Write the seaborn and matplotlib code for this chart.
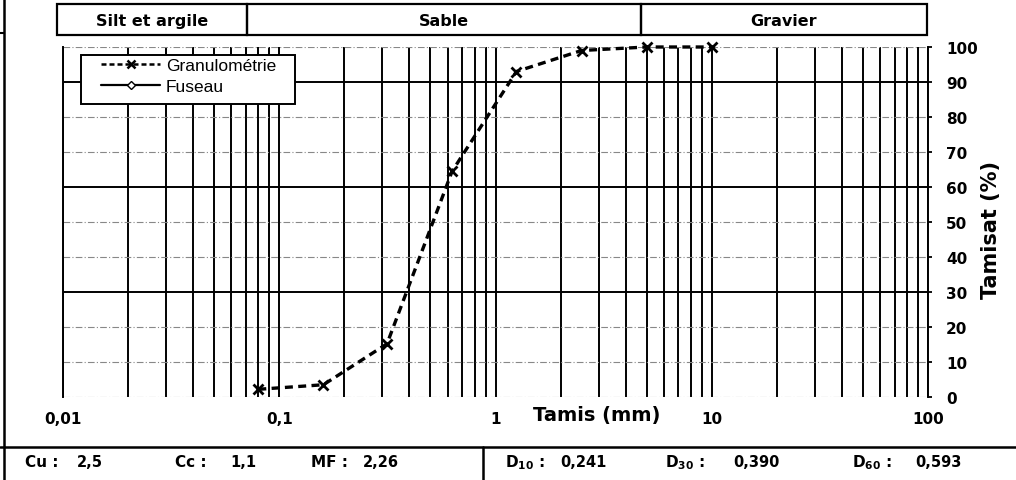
import numpy as np
import pandas as pd
import matplotlib
matplotlib.use("Agg")
import matplotlib.pyplot as plt
from matplotlib.patches import Rectangle
from matplotlib.lines import Line2D
from matplotlib.ticker import LogLocator, FixedLocator, NullFormatter
import seaborn as sns

# ---- data ----
tamis_mm = [0.08, 0.16, 0.315, 0.63, 1.25, 2.5, 5, 10]
tamisat_pct = [2.2, 3.5, 15.2, 64.5, 93.0, 99.0, 100.0, 100.0]
x_ticks = [0.01, 0.1, 1, 10, 100]
x_tick_labels = ["0,01", "0,1", "1", "10", "100"]
y_ticks = [0, 10, 20, 30, 40, 50, 60, 70, 80, 90, 100]
classes = ["Silt et argile", "Sable", "Gravier"]
params_left = [("Cu :", "2,5"), ("Cc :", "1,1"), ("MF :", "2,26")]
params_right = [("10", "0,241"), ("30", "0,390"), ("60", "0,593")]

sns.set_theme(style="white")
plt.rcParams["font.family"] = ["DejaVu Sans"]
plt.rcParams["text.color"] = "black"
plt.rcParams["xtick.color"] = "black"
plt.rcParams["ytick.color"] = "black"

W, H = 1016, 481
fig = plt.figure(figsize=(W / 100, H / 100), dpi=100)
fig.patch.set_facecolor("white")

def fx(px):
    return px / W

def fy(py):
    return 1 - py / H

# main axes: x 63..928 px, y 48..398 px
ax = fig.add_axes([fx(63), fy(398), fx(928) - fx(63), (398 - 48) / H])
df = pd.DataFrame({"Tamis": tamis_mm, "Tamisat": tamisat_pct})
sns.lineplot(data=df, x="Tamis", y="Tamisat", ax=ax, color="black",
             linestyle=(0, (2.4, 1.6)), lw=2.4, marker="x", markersize=7,
             markeredgewidth=2.0, markeredgecolor="black", zorder=5)
for ln in ax.lines:
    ln.set_clip_on(False)
ax.plot([], [], color="black", lw=1.5, marker="D", markersize=4,
        markerfacecolor="white", markeredgecolor="black", label="Fuseau")

ax.set_xscale("log")
ax.set_xlim(x_ticks[0], x_ticks[-1])
ax.set_ylim(y_ticks[0], y_ticks[-1])
ax.xaxis.set_major_locator(FixedLocator(x_ticks))
ax.xaxis.set_minor_locator(LogLocator(base=10, subs=range(2, 10), numticks=20))
ax.xaxis.set_minor_formatter(NullFormatter())
ax.set_xticklabels(x_tick_labels)
ax.set_yticks(y_ticks)
ax.yaxis.tick_right()
ax.tick_params(axis="x", which="both", length=0, pad=10, labelsize=11)
ax.tick_params(axis="y", which="major", direction="out", length=3, width=1.3,
               pad=10, labelsize=11, right=True, left=False)
for lab in ax.get_xticklabels() + ax.get_yticklabels():
    lab.set_fontweight("bold")
    lab.set_color("black")
ax.set_xlabel("")
ax.set_ylabel("")

ax.grid(which="both", axis="x", color="black", lw=1.4)
ax.grid(which="major", axis="y", color="#888888", lw=0.8, linestyle=(0, (6, 2, 1, 2)))
for val, gl in zip(y_ticks, ax.get_ygridlines()):
    if val in (30, 60, 90):
        gl.set_color("black")
        gl.set_linestyle("-")
        gl.set_linewidth(1.4)
for side in ["top", "bottom"]:
    ax.spines[side].set_visible(False)
for side in ["left", "right"]:
    ax.spines[side].set_color("black")
    ax.spines[side].set_linewidth(1.4)
ax.set_facecolor("white")

# legend: frame drawn separately
box = Rectangle((fx(81), fy(105)), fx(295) - fx(81), (105 - 56) / H,
                transform=fig.transFigure, facecolor="white", edgecolor="black",
                lw=1.4, zorder=9)
ax.add_artist(box)
box.set_clip_on(False)
handles = [Line2D([], [], color="black", lw=1.8, linestyle=(0, (2.0, 1.2)),
                  marker="x", markersize=6, markeredgewidth=1.8),
           Line2D([], [], color="black", lw=1.6, marker="D", markersize=4,
                  markerfacecolor="white", markeredgecolor="black")]
ax_w = fx(928) - fx(63)
leg = ax.legend(handles, ["Granulométrie", "Fuseau"], loc="upper left",
                bbox_to_anchor=((fx(101) - fx(63)) / ax_w, (398 - 59) / 350),
                frameon=False, prop={"family": "Liberation Sans", "size": 12.5},
                handlelength=3.4, handletextpad=0.35, borderpad=0,
                labelspacing=0.35, borderaxespad=0)
leg.set_zorder(10)

# axis titles
fig.text(fx(597), fy(416), "Tamis (mm)", ha="center", va="center",
         fontsize=14, fontweight="bold")
fig.text(fx(991), fy(230), "Tamisat (%)", ha="center", va="center",
         rotation=90, fontsize=15, fontweight="bold")

# header classification boxes
bounds = [57, 247, 641, 927]
top, bot = 5, 36
for i, name in enumerate(classes):
    r = Rectangle((fx(bounds[i]), fy(bot)), fx(bounds[i + 1]) - fx(bounds[i]),
                  (bot - top) / H, transform=fig.transFigure, fill=False,
                  edgecolor="black", lw=1.6)
    fig.add_artist(r)
    fig.text(fx((bounds[i] + bounds[i + 1]) / 2), fy((top + bot) / 2 + 1), name,
             ha="center", va="center", fontsize=11.5, fontweight="bold")

# frame lines
fig.add_artist(Line2D([fx(4), fx(4)], [0, 1], transform=fig.transFigure,
                      color="black", lw=1.8))
fig.add_artist(Line2D([0, fx(4)], [fy(34), fy(34)], transform=fig.transFigure,
                      color="black", lw=1.5))
fig.add_artist(Line2D([0, 1], [fy(448), fy(448)], transform=fig.transFigure,
                      color="black", lw=1.8))
fig.add_artist(Line2D([fx(483), fx(483)], [fy(448), 0], transform=fig.transFigure,
                      color="black", lw=1.8))

# bottom parameter table
ty = fy(463)
left_lab_x = [25, 175, 311]
left_val_x = [77, 230, 363]
for (lab, val), lx, vx in zip(params_left, left_lab_x, left_val_x):
    fig.text(fx(lx), ty, lab, ha="left", va="center", fontsize=11, fontweight="bold")
    fig.text(fx(vx), ty, val, ha="left", va="center", fontsize=10.5, fontweight="bold")
right_lab_x = [505, 665, 852]
right_val_x = [560, 733, 915]
for (sub, val), lx, vx in zip(params_right, right_lab_x, right_val_x):
    fig.text(fx(lx), ty, r"D$_{\mathbf{%s}}$ :" % sub, ha="left", va="center",
             fontsize=11, fontweight="bold")
    fig.text(fx(vx), ty, val, ha="left", va="center", fontsize=10.5, fontweight="bold")

fig.savefig("out.png", dpi=100, facecolor="white")
